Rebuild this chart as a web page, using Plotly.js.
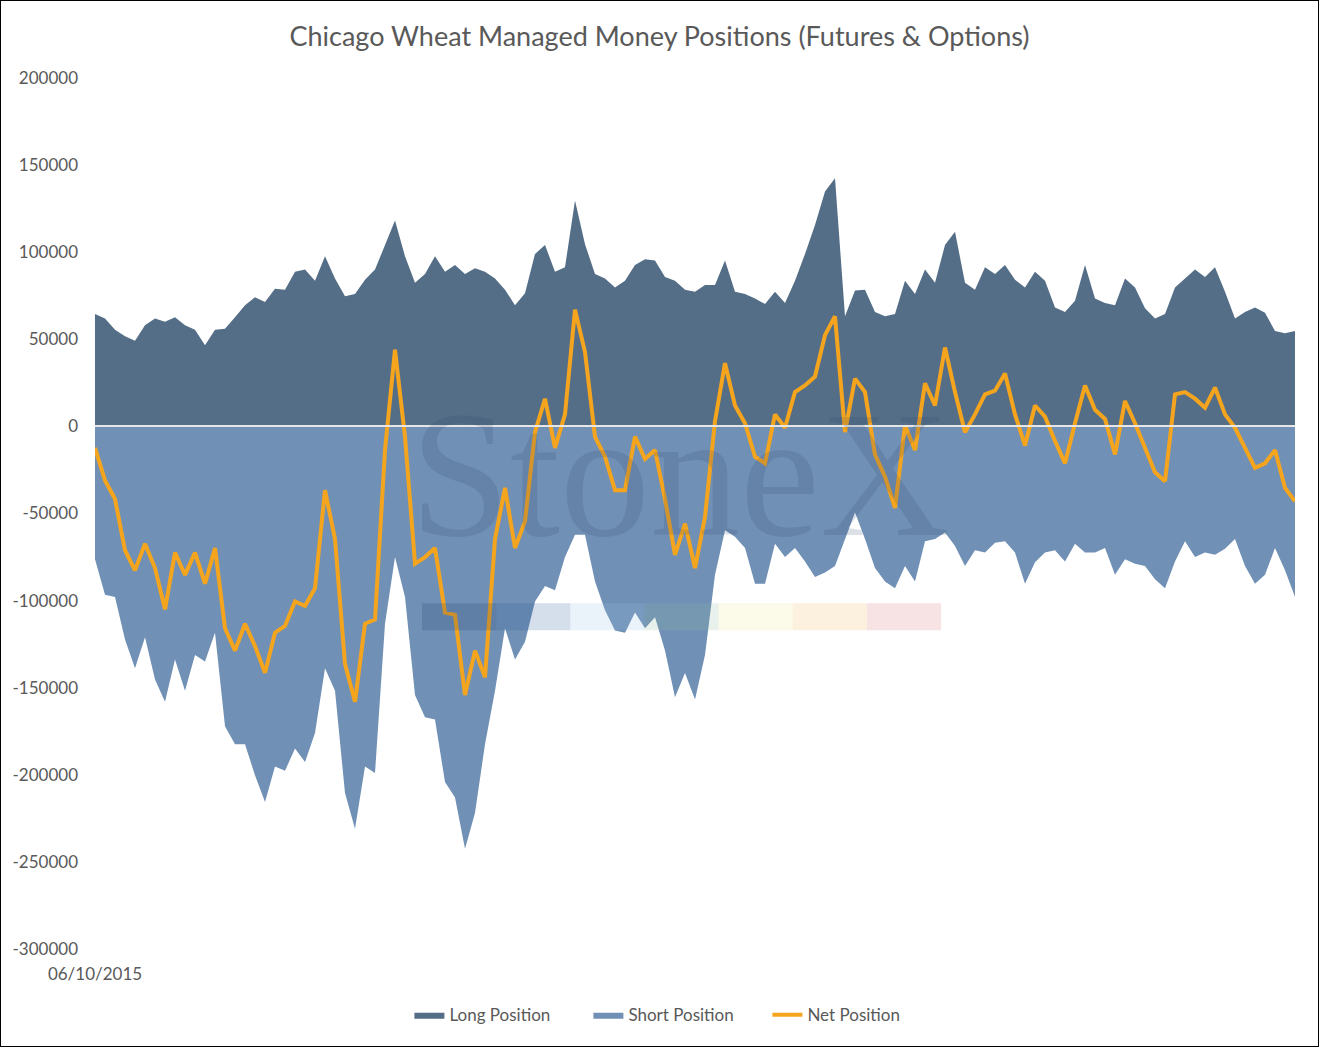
<!DOCTYPE html>
<html>
<head>
<meta charset="utf-8">
<script src="https://cdn.plot.ly/plotly-3.0.1.min.js"></script>
<style>
  html, body { margin: 0; padding: 0; background: #fff; }
  #graph { width: 1319px; height: 1047px; border: 1px solid #000; box-sizing: border-box; }
</style>
</head>
<body>
<div id="graph"></div>
<script>
// weekly COT readings, first report 06/10/2015
var firstDate = "06/10/2015";

var longPos = [64500, 61900, 55500, 51700, 49100, 58100, 61900, 60100, 62700, 58100, 55500, 46600, 55500, 56000, 62700, 69600, 74200, 71400, 79000, 78500, 88800, 90000, 83600, 97700, 84900, 74700, 76000, 84200, 90000, 103600, 118200,
  97700, 82400, 87500, 97700, 88800, 92600, 87500, 90800, 88800, 84900, 78500, 69600, 76500, 99000, 104100, 88800, 91300, 129700, 104600, 87500, 84900, 79800, 83600, 92600, 95900, 95200, 85700, 83600, 78500, 77300,
  81100, 81100, 95200, 77300, 76000, 73400, 70300, 77300, 70900, 83600, 99000, 115600, 134800, 142500, 63200, 78000, 78500, 65700, 63200, 64500, 83600, 76000, 90000, 82400, 104100, 111800, 82400, 78500, 91300, 87500,
  92600, 84200, 79800, 88800, 83600, 68300, 65700, 72100, 92600, 73400, 70900, 69600, 84900, 79800, 67800, 61900, 64500, 79800, 84900, 90000, 85700, 91300, 77300, 61900, 65700, 68300, 65200, 54700, 53500, 54700];

var shortPos = [-76200, -96700, -98000, -122300, -138900, -121000, -145300, -158000, -133800, -151700, -131200, -135000, -118400, -172200, -182400, -182400, -200300, -215600, -195200, -197700, -184900, -192600, -176000, -138900, -151700, -210500, -231000, -195200, -199000, -113300, -75000,
  -98000, -154200, -167000, -168300, -204100, -213100, -242500, -222000, -182400, -151700, -115900, -133800, -123600, -100500, -91600, -94100, -75000, -62200, -62200, -89000, -105600, -117200, -118400, -106900, -115900, -109500, -128700, -155500, -141500, -156800,
  -131200, -85200, -59600, -63400, -69800, -90300, -90300, -67300, -75000, -69800, -77500, -86500, -83900, -80100, -64700, -49400, -64700, -81300, -89000, -92900, -80100, -89000, -66000, -64700, -60900, -68600, -80100, -71100, -72400, -66800,
  -66000, -72400, -90300, -78000, -72400, -71100, -77500, -67300, -72400, -72400, -69800, -85200, -76200, -78800, -80100, -87700, -92900, -77500, -66000, -74900, -72400, -73700, -70300, -64700, -80100, -90300, -85200, -69800, -82600, -98000];

var netPos = [-12300, -31000, -41700, -71100, -82600, -67300, -81300, -105000, -72400, -85200, -72400, -90300, -69800, -115900, -128700, -113300, -126100, -141500, -118400, -114600, -100500, -103100, -92900, -36600, -64700, -136300, -158000, -113300, -110800, -13600, 44000,
  -5900, -78800, -75000, -69800, -106900, -108200, -154200, -128700, -144000, -64700, -35300, -69800, -54500, -3300, 15900, -12300, 6900, 67000, 42700, -5900, -17400, -36600, -36600, -5900, -18700, -13600, -41700, -73700, -55800, -81300,
  -52000, 3000, 36300, 12000, 1800, -17400, -21200, 6900, -800, 19700, 23500, 28600, 52400, 63200, -3300, 27400, 19700, -16100, -28900, -46800, 500, -13600, 24800, 12000, 45300, 19700, -3300, 6900, 18400, 20500,
  30400, 6900, -11000, 12000, 5600, -8400, -21200, 1800, 23500, 9500, 4300, -16100, 14600, 1800, -13000, -26300, -31500, 18400, 19700, 15900, 10700, 22300, 6900, -800, -12300, -23800, -21200, -13600, -35300, -43000];

var yTicks = [200000, 150000, 100000, 50000, 0, -50000, -100000, -150000, -200000, -250000, -300000];

var weeks = longPos.map(function (v, i) { return i; });

var textGrey = "#595959";
var fontFam = "Lato, 'Open Sans', sans-serif";

var longTrace = {
  x: weeks, y: longPos, type: "scatter", mode: "lines",
  fill: "tozeroy", fillcolor: "#546E87",
  line: { color: "#546E87", width: 0 },
  name: "Long Position"
};
var shortTrace = {
  x: weeks, y: shortPos, type: "scatter", mode: "lines",
  fill: "tozeroy", fillcolor: "#7090B5",
  line: { color: "#7090B5", width: 0 },
  name: "Short Position"
};
var netTrace = {
  x: weeks, y: netPos, type: "scatter", mode: "lines",
  line: { color: "#F5A51D", width: 4 },
  name: "Net Position"
};

// faint logo bar behind the watermark
var barColors = ["#1f3c6e", "#2e5c9a", "#9cc4e4", "#8fb9a0", "#eee48a", "#f2b25e", "#d9707a"];
var shapes = barColors.map(function (c, i) {
  return {
    type: "rect", xref: "paper", yref: "paper", layer: "above",
    x0: 0.2725 + i * 0.0618, x1: 0.2725 + (i + 1) * 0.0618,
    y0: 0.366, y1: 0.397,
    fillcolor: c, opacity: 0.2, line: { width: 0 }
  };
});

var layout = {
  width: 1317,
  height: 1045,
  margin: { l: 94, r: 23, t: 77, b: 97 },
  paper_bgcolor: "#fff",
  plot_bgcolor: "#fff",
  font: { family: fontFam, color: textGrey, size: 17 },
  title: {
    text: "Chicago Wheat Managed Money Positions (Futures & Options)",
    font: { family: fontFam, size: 27, color: textGrey },
    x: 0.5, xanchor: "center", y: 0.966, yanchor: "middle"
  },
  showlegend: true,
  legend: {
    orientation: "h", x: 0.262, xanchor: "left", y: -0.076, yanchor: "middle",
    font: { family: fontFam, size: 17, color: textGrey },
    entrywidth: 134, entrywidthmode: "pixels",
    traceorder: "normal"
  },
  xaxis: {
    range: [0, weeks.length - 1],
    tickvals: [0], ticktext: [firstDate],
    showgrid: false, zeroline: false, showline: false, ticks: "",
    ticklabelstandoff: 13,
    tickfont: { family: fontFam, size: 17, color: textGrey }
  },
  yaxis: {
    range: [-300000, 200000],
    tickvals: yTicks,
    ticktext: yTicks.map(function (v) { return String(v); }),
    showgrid: false, showline: false, ticks: "",
    zeroline: true, zerolinecolor: "#E6E6E6", zerolinewidth: 2,
    zerolinelayer: "above traces",
    ticklabelstandoff: 16,
    tickfont: { family: fontFam, size: 17, color: textGrey }
  },
  shapes: shapes,
  annotations: [{
    xref: "paper", yref: "paper", x: 0.4875, y: 0.545,
    xanchor: "center", yanchor: "middle", showarrow: false,
    text: "StoneX",
    font: { family: "'Liberation Serif', 'DejaVu Serif', serif", size: 180, color: "rgba(45,70,110,0.17)" }
  }]
};

Plotly.newPlot("graph", [longTrace, shortTrace, netTrace], layout, { displayModeBar: false });
</script>
</body>
</html>
